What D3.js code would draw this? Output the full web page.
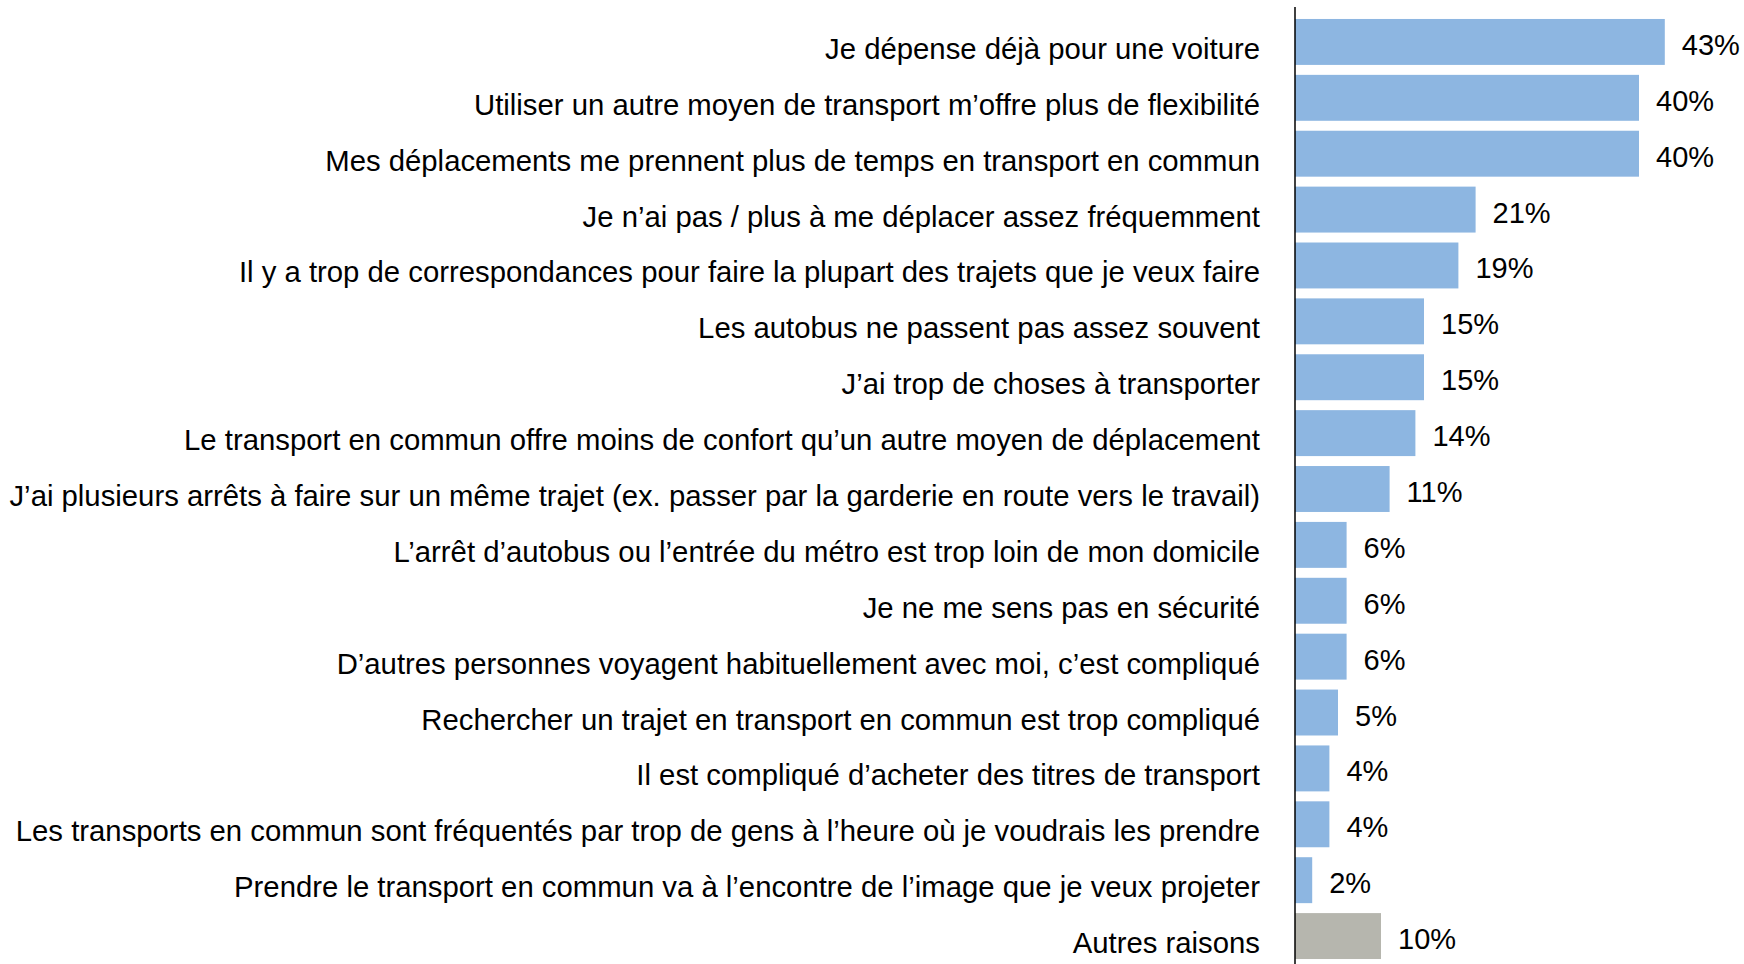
<!DOCTYPE html>
<html>
<head>
<meta charset="utf-8">
<script src="https://cdn.jsdelivr.net/npm/d3@7"></script>
<style>
  body { margin: 0; background: #fff; }
  text { font-family: "Liberation Sans", Arial, sans-serif; fill: #000; }
</style>
</head>
<body>
<svg width="1744" height="964"></svg>
<script>
// reasons for not using public transit (%)
var reasons = [
    "Je dépense déjà pour une voiture",
    "Utiliser un autre moyen de transport m’offre plus de flexibilité",
    "Mes déplacements me prennent plus de temps en transport en commun",
    "Je n’ai pas / plus à me déplacer assez fréquemment",
    "Il y a trop de correspondances pour faire la plupart des trajets que je veux faire",
    "Les autobus ne passent pas assez souvent",
    "J’ai trop de choses à transporter",
    "Le transport en commun offre moins de confort qu’un autre moyen de déplacement",
    "J’ai plusieurs arrêts à faire sur un même trajet (ex. passer par la garderie en route vers le travail)",
    "L’arrêt d’autobus ou l’entrée du métro est trop loin de mon domicile",
    "Je ne me sens pas en sécurité",
    "D’autres personnes voyagent habituellement avec moi, c’est compliqué",
    "Rechercher un trajet en transport en commun est trop compliqué",
    "Il est compliqué d’acheter des titres de transport",
    "Les transports en commun sont fréquentés par trop de gens à l’heure où je voudrais les prendre",
    "Prendre le transport en commun va à l’encontre de l’image que je veux projeter",
    "Autres raisons"
];
var percents = [43, 40, 40, 21, 19, 15, 15, 14, 11, 6, 6, 6, 5, 4, 4, 2, 10];
var otherLabel = "Autres raisons";

var rows = reasons.map(function(r, i) { return {name: r, value: percents[i]}; });

var svg = d3.select("svg");

var x = d3.scaleLinear().domain([0, 50]).range([1295, 1725]);
var y = d3.scaleBand()
    .domain(reasons)
    .range([14, 964])
    .paddingInner(0.178)
    .paddingOuter(0.089);

// bars
svg.append("g")
    .selectAll("rect")
    .data(rows)
    .enter().append("rect")
    .attr("x", x(0))
    .attr("y", function(d) { return y(d.name); })
    .attr("width", function(d) { return x(d.value) - x(0); })
    .attr("height", y.bandwidth())
    .attr("fill", function(d) { return d.name == otherLabel ? "#b6b6ae" : "#8db6e1"; });

// value labels
svg.append("g")
    .selectAll("text")
    .data(rows)
    .enter().append("text")
    .attr("x", function(d) { return x(d.value) + 17; })
    .attr("y", function(d) { return y(d.name) + y.bandwidth() / 2 + 13; })
    .style("font-size", "29px")
    .text(function(d) { return d.value + "%"; });

// category labels (sit a bit lower than the bar centres)
svg.append("g")
    .selectAll("text")
    .data(rows)
    .enter().append("text")
    .attr("x", 1260)
    .attr("y", function(d) { return y(d.name) + y.bandwidth() / 2 + 17; })
    .attr("text-anchor", "end")
    .style("font-size", "29.3px")
    .text(function(d) { return d.name; });

// vertical axis line
svg.append("line")
    .attr("x1", x(0)).attr("x2", x(0))
    .attr("y1", 7).attr("y2", 964)
    .attr("stroke", "#000")
    .attr("stroke-width", 1.5);
</script>
</body>
</html>
